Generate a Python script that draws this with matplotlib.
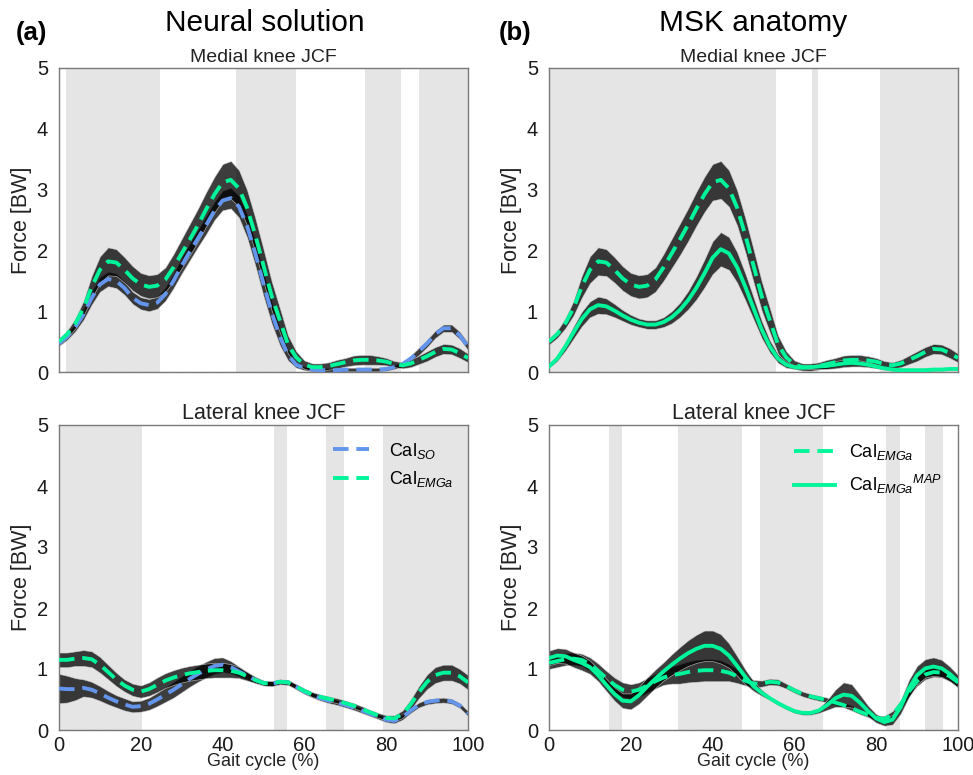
import numpy as np
import matplotlib
matplotlib.use("Agg")
import matplotlib.pyplot as plt

plt.rcParams['font.family'] = ['Liberation Sans', 'DejaVu Sans']
plt.rcParams['mathtext.fontset'] = 'custom'
plt.rcParams['mathtext.rm'] = 'Liberation Sans'
plt.rcParams['mathtext.it'] = 'Liberation Sans:italic'
plt.rcParams['mathtext.bf'] = 'Liberation Sans:bold'

# ---------------- data ----------------
gait = np.arange(0, 101, 2)

# Medial knee JCF, CalEMGa (same in both columns)
med_emga = [0.50, 0.62, 0.80, 1.05, 1.40, 1.68, 1.82, 1.80, 1.68, 1.54,
            1.44, 1.40, 1.42, 1.52, 1.72, 1.95, 2.18, 2.42, 2.68, 2.92,
            3.12, 3.16, 3.02, 2.70, 2.25, 1.75, 1.25, 0.85, 0.45, 0.24,
            0.12, 0.08, 0.08, 0.10, 0.13, 0.16, 0.19, 0.20, 0.20, 0.19,
            0.17, 0.13, 0.11, 0.14, 0.20, 0.26, 0.33, 0.38, 0.37, 0.31, 0.23]
med_emga_sd = [0.05, 0.06, 0.08, 0.12, 0.18, 0.22, 0.23, 0.22, 0.21, 0.20,
               0.19, 0.19, 0.19, 0.20, 0.22, 0.24, 0.26, 0.27, 0.28, 0.29,
               0.30, 0.31, 0.30, 0.29, 0.28, 0.27, 0.24, 0.20, 0.15, 0.10,
               0.07, 0.06, 0.06, 0.06, 0.07, 0.07, 0.08, 0.08, 0.08, 0.07,
               0.06, 0.05, 0.05, 0.06, 0.07, 0.08, 0.08, 0.08, 0.08, 0.08, 0.07]

# Medial knee JCF, CalSO
med_so = [0.47, 0.58, 0.74, 0.95, 1.22, 1.44, 1.53, 1.50, 1.38, 1.22,
          1.13, 1.10, 1.14, 1.28, 1.50, 1.75, 1.98, 2.20, 2.42, 2.65,
          2.82, 2.86, 2.72, 2.40, 1.95, 1.45, 0.98, 0.58, 0.28, 0.12,
          0.06, 0.04, 0.03, 0.03, 0.03, 0.04, 0.04, 0.04, 0.04, 0.04,
          0.05, 0.08, 0.13, 0.22, 0.34, 0.47, 0.62, 0.72, 0.72, 0.60, 0.42]
med_so_sd = [0.04, 0.05, 0.07, 0.09, 0.11, 0.12, 0.12, 0.12, 0.11, 0.10,
             0.10, 0.10, 0.10, 0.11, 0.12, 0.13, 0.14, 0.14, 0.15, 0.15,
             0.16, 0.17, 0.18, 0.19, 0.20, 0.20, 0.18, 0.14, 0.09, 0.05,
             0.03, 0.03, 0.03, 0.03, 0.03, 0.03, 0.03, 0.03, 0.03, 0.03,
             0.03, 0.03, 0.04, 0.05, 0.06, 0.06, 0.06, 0.06, 0.06, 0.06, 0.06]

# Medial knee JCF, CalEMGa MAP
med_map = [0.09, 0.22, 0.42, 0.65, 0.87, 1.03, 1.10, 1.08, 1.01, 0.93,
           0.86, 0.81, 0.78, 0.78, 0.82, 0.90, 1.02, 1.18, 1.38, 1.62,
           1.88, 2.02, 1.95, 1.72, 1.40, 1.05, 0.70, 0.42, 0.22, 0.12,
           0.08, 0.07, 0.08, 0.09, 0.10, 0.12, 0.14, 0.15, 0.14, 0.12,
           0.09, 0.06, 0.04, 0.03, 0.03, 0.03, 0.03, 0.04, 0.04, 0.05, 0.05]
med_map_sd = [0.02, 0.04, 0.07, 0.10, 0.12, 0.13, 0.14, 0.13, 0.11, 0.09,
              0.08, 0.07, 0.07, 0.07, 0.08, 0.10, 0.12, 0.15, 0.19, 0.23,
              0.27, 0.28, 0.27, 0.25, 0.22, 0.18, 0.14, 0.10, 0.07, 0.05,
              0.03, 0.03, 0.03, 0.04, 0.05, 0.06, 0.06, 0.06, 0.05, 0.04,
              0.03, 0.02, 0.02, 0.02, 0.02, 0.02, 0.02, 0.02, 0.02, 0.02, 0.02]

# Lateral knee JCF, CalEMGa (left)
lat_emga_a = [1.15, 1.15, 1.17, 1.18, 1.16, 1.07, 0.95, 0.83, 0.73, 0.66,
              0.63, 0.67, 0.74, 0.81, 0.86, 0.90, 0.93, 0.95, 0.97, 0.98,
              0.98, 0.97, 0.94, 0.88, 0.82, 0.77, 0.76, 0.79, 0.78, 0.71,
              0.64, 0.58, 0.54, 0.51, 0.48, 0.44, 0.40, 0.35, 0.29, 0.24,
              0.20, 0.19, 0.26, 0.42, 0.62, 0.79, 0.90, 0.94, 0.94, 0.88, 0.78]
lat_emga_a_sd = [0.12, 0.12, 0.12, 0.13, 0.13, 0.13, 0.12, 0.11, 0.10, 0.10,
                 0.10, 0.11, 0.12, 0.12, 0.12, 0.12, 0.12, 0.12, 0.12, 0.12,
                 0.12, 0.11, 0.09, 0.07, 0.05, 0.04, 0.04, 0.04, 0.04, 0.04,
                 0.04, 0.04, 0.04, 0.04, 0.04, 0.04, 0.04, 0.04, 0.04, 0.04,
                 0.04, 0.05, 0.06, 0.08, 0.10, 0.12, 0.13, 0.13, 0.13, 0.12, 0.12]

# Lateral knee JCF, CalSO
lat_so = [0.68, 0.67, 0.67, 0.69, 0.66, 0.60, 0.53, 0.47, 0.42, 0.38,
          0.39, 0.43, 0.50, 0.58, 0.66, 0.75, 0.84, 0.92, 0.99, 1.05,
          1.07, 1.03, 0.96, 0.89, 0.82, 0.77, 0.76, 0.79, 0.78, 0.71,
          0.63, 0.57, 0.52, 0.48, 0.45, 0.41, 0.37, 0.32, 0.27, 0.22,
          0.17, 0.15, 0.21, 0.32, 0.41, 0.46, 0.48, 0.49, 0.47, 0.40, 0.27]
lat_so_sd = [0.24, 0.22, 0.18, 0.14, 0.13, 0.12, 0.11, 0.10, 0.10, 0.09,
             0.09, 0.10, 0.11, 0.12, 0.13, 0.13, 0.13, 0.13, 0.13, 0.13,
             0.12, 0.10, 0.08, 0.06, 0.05, 0.04, 0.04, 0.04, 0.04, 0.04,
             0.04, 0.04, 0.04, 0.04, 0.04, 0.04, 0.04, 0.04, 0.04, 0.04,
             0.04, 0.04, 0.04, 0.04, 0.04, 0.04, 0.04, 0.04, 0.04, 0.04, 0.04]

# Lateral knee JCF, CalEMGa (right)
lat_emga_b = [1.10, 1.13, 1.16, 1.17, 1.15, 1.08, 0.97, 0.85, 0.74, 0.66,
              0.63, 0.66, 0.73, 0.80, 0.86, 0.90, 0.92, 0.95, 0.97, 0.98,
              0.98, 0.97, 0.94, 0.88, 0.81, 0.76, 0.76, 0.79, 0.78, 0.72,
              0.65, 0.59, 0.55, 0.52, 0.49, 0.45, 0.41, 0.36, 0.30, 0.25,
              0.20, 0.18, 0.25, 0.42, 0.63, 0.80, 0.91, 0.95, 0.94, 0.88, 0.78]
lat_emga_b_sd = [0.10, 0.10, 0.10, 0.10, 0.10, 0.11, 0.12, 0.12, 0.12, 0.12,
                 0.12, 0.12, 0.12, 0.12, 0.12, 0.14, 0.16, 0.17, 0.18, 0.18,
                 0.18, 0.17, 0.14, 0.11, 0.08, 0.06, 0.05, 0.05, 0.05, 0.04,
                 0.04, 0.04, 0.04, 0.04, 0.04, 0.04, 0.04, 0.04, 0.04, 0.04,
                 0.04, 0.05, 0.06, 0.07, 0.08, 0.08, 0.08, 0.08, 0.08, 0.08, 0.08]

# Lateral knee JCF, CalEMGa MAP
lat_map = [1.18, 1.22, 1.21, 1.15, 1.10, 1.03, 0.90, 0.74, 0.59, 0.48,
           0.47, 0.57, 0.71, 0.84, 0.96, 1.07, 1.17, 1.26, 1.33, 1.38,
           1.38, 1.33, 1.22, 1.05, 0.87, 0.72, 0.61, 0.52, 0.44, 0.37,
           0.31, 0.28, 0.28, 0.32, 0.41, 0.52, 0.58, 0.56, 0.45, 0.31,
           0.19, 0.13, 0.17, 0.38, 0.68, 0.90, 1.01, 1.04, 1.01, 0.92, 0.80]
lat_map_sd = [0.12, 0.12, 0.12, 0.12, 0.12, 0.11, 0.10, 0.10, 0.11, 0.12,
              0.13, 0.14, 0.15, 0.15, 0.15, 0.17, 0.19, 0.21, 0.23, 0.25,
              0.25, 0.24, 0.20, 0.16, 0.12, 0.08, 0.05, 0.03, 0.03, 0.03,
              0.03, 0.03, 0.03, 0.04, 0.08, 0.14, 0.20, 0.19, 0.13, 0.09,
              0.07, 0.06, 0.08, 0.11, 0.14, 0.15, 0.15, 0.15, 0.14, 0.12, 0.10]

# Grey phases (start, end) in % gait cycle
spans_a_med = [(1.7, 24.8), (43.3, 57.9), (74.8, 83.6), (87.9, 100)]
spans_b_med = [(0, 55.5), (64.4, 65.7), (80.9, 100)]
spans_a_lat = [(0, 20.3), (52.6, 55.8), (65.3, 69.7), (79.3, 100)]
spans_b_lat = [(14.7, 17.8), (31.6, 47.3), (51.6, 66.9), (82.4, 85.8), (91.9, 96.3)]

yticks = [0, 1, 2, 3, 4, 5]
xticks = [0, 20, 40, 60, 80, 100]

col_so = '#6495ED'
col_emga = '#00F59A'
span_col = '#e5e5e5'

# ---------------- figure ----------------
fig = plt.figure(figsize=(9.73, 7.75), dpi=100)
W, H = 973.0, 775.0

def mk_ax(l, t, r, b):
    return fig.add_axes([l / W, 1 - b / H, (r - l) / W, (b - t) / H])

ax_tl = mk_ax(59, 68, 468, 372)
ax_tr = mk_ax(549, 68, 958, 372)
ax_bl = mk_ax(59, 425, 468, 730)
ax_br = mk_ax(549, 425, 958, 730)

def band(ax, mean, sd):
    m = np.array(mean)
    s = np.array(sd)
    ax.fill_between(gait, m - s, m + s, color='black', alpha=0.76,
                    edgecolor='#cfcfcf', linewidth=0.5, zorder=2)

def style(ax, spans, show_x):
    for a, b in spans:
        ax.axvspan(a, b, color=span_col, lw=0, zorder=0)
    ax.axhline(0, color='#333333', ls=(0, (1, 1)), lw=0.8, zorder=1)
    ax.set_xlim(0, 100)
    ax.set_ylim(0, 5)
    ax.set_yticks(yticks)
    ax.set_xticks(xticks)
    ax.tick_params(length=0, labelsize=14.5, labelcolor='#1a1a1a')
    ax.tick_params(axis='y', pad=8)
    ax.tick_params(axis='x', pad=4)
    for sp in ax.spines.values():
        sp.set_color('#7a7a7a')
        sp.set_linewidth(1.0)
    ax.set_ylabel('Force [BW]', fontsize=15.5, labelpad=3, color='#222222')
    if show_x:
        ax.set_xlabel('Gait cycle (%)', fontsize=13, labelpad=-1, color='#222222')
    else:
        ax.set_xticklabels([])

dash_kw = dict(lw=2.8, ls=(0, (4, 2.0)), zorder=4)

# (a) medial
style(ax_tl, spans_a_med, False)
band(ax_tl, med_so, med_so_sd)
band(ax_tl, med_emga, med_emga_sd)
ax_tl.plot(gait, med_so, color=col_so, **dash_kw)
ax_tl.plot(gait, med_emga, color=col_emga, **dash_kw)
ax_tl.set_title('Medial knee JCF', fontsize=14, pad=4, color='#222222')

# (b) medial
style(ax_tr, spans_b_med, False)
band(ax_tr, med_emga, med_emga_sd)
band(ax_tr, med_map, med_map_sd)
ax_tr.plot(gait, med_emga, color=col_emga, **dash_kw)
ax_tr.plot(gait, med_map, color=col_emga, lw=2.8, zorder=4)
ax_tr.set_title('Medial knee JCF', fontsize=14, pad=4, color='#222222')

# (a) lateral
style(ax_bl, spans_a_lat, True)
band(ax_bl, lat_so, lat_so_sd)
band(ax_bl, lat_emga_a, lat_emga_a_sd)
ax_bl.plot(gait, lat_so, color=col_so, label=r'Cal$_{SO}$', **dash_kw)
ax_bl.plot(gait, lat_emga_a, color=col_emga, label=r'Cal$_{EMGa}$', **dash_kw)
ax_bl.set_title('Lateral knee JCF', fontsize=15.5, pad=4, color='#222222')
ax_bl.legend(loc='upper left', bbox_to_anchor=(0.66, 0.96), frameon=False,
             fontsize=13, handlelength=2.0, handletextpad=1.1,
             labelspacing=0.45, borderaxespad=0, borderpad=0.2)

# (b) lateral
style(ax_br, spans_b_lat, True)
band(ax_br, lat_emga_b, lat_emga_b_sd)
band(ax_br, lat_map, lat_map_sd)
ax_br.plot(gait, lat_emga_b, color=col_emga, label=r'Cal$_{EMGa}$', **dash_kw)
ax_br.plot(gait, lat_map, color=col_emga, lw=2.8, zorder=4,
           label=r'Cal$_{EMGa}{}^{MAP}$')
ax_br.set_title('Lateral knee JCF', fontsize=15.5, pad=4, color='#222222')
ax_br.legend(loc='upper left', bbox_to_anchor=(0.59, 0.955), frameon=False,
             fontsize=13, handlelength=2.3, handletextpad=0.75,
             labelspacing=0.6, borderaxespad=0, borderpad=0.2)

# Column headers and panel letters
fig.text(265 / W, 1 - 23 / H, 'Neural solution', fontsize=21.5, ha='center', va='center')
fig.text(753 / W, 1 - 23 / H, 'MSK anatomy', fontsize=21.5, ha='center', va='center')
fig.text(16 / W, 1 - 33 / H, '(a)', fontsize=18.5, fontweight='bold', ha='left', va='center')
fig.text(499 / W, 1 - 33 / H, '(b)', fontsize=18.5, fontweight='bold', ha='left', va='center')

fig.savefig('out.png', dpi=100)
